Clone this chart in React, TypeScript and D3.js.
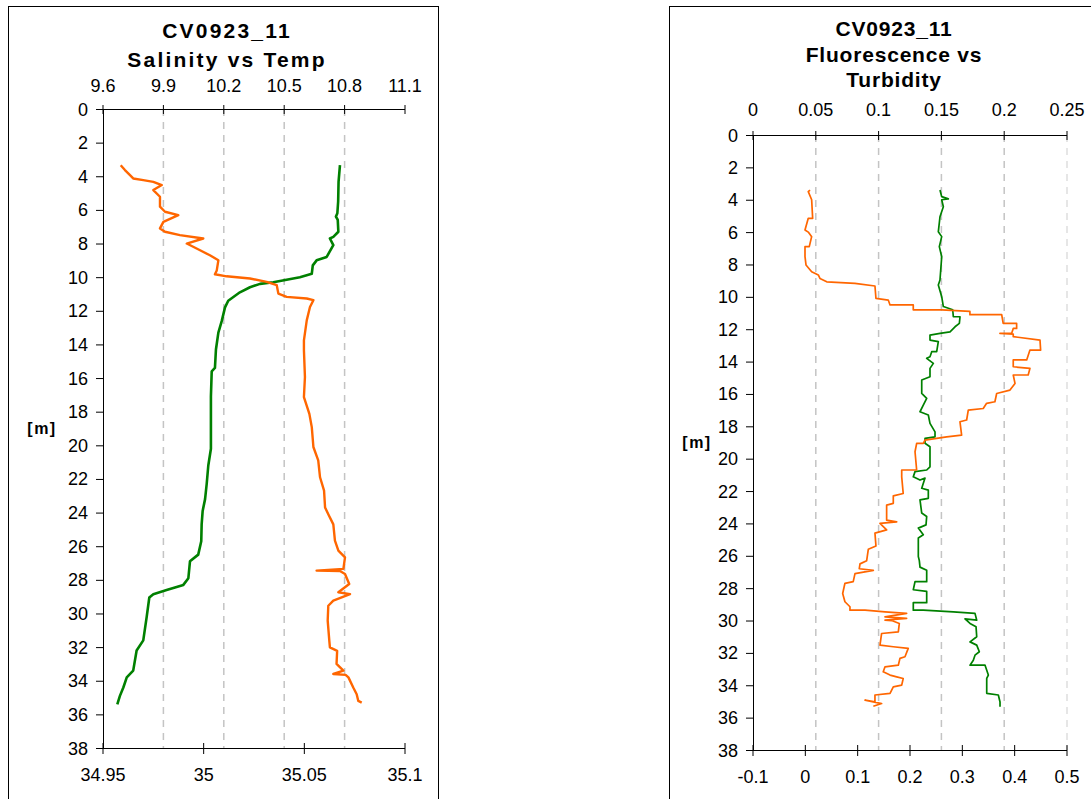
import * as d3 from 'd3';

// depth ticks shared by both panels
const depthTicks = [0, 2, 4, 6, 8, 10, 12, 14, 16, 18, 20, 22, 24, 26, 28, 30, 32, 34, 36, 38];

const tempTicks = [9.6, 9.9, 10.2, 10.5, 10.8, 11.1];
const salTicks = [34.95, 35, 35.05, 35.1];
const fluorTicks = [0, 0.05, 0.1, 0.15, 0.2, 0.25];
const turbTicks = [-0.1, 0, 0.1, 0.2, 0.3, 0.4, 0.5];

// [depth m, temperature]
const tempProfile: [number, number][] = [
  [3.34, 10.777], [4.33, 10.770], [5.5, 10.768], [6.2, 10.764], [6.4, 10.757], [6.6, 10.766],
  [7.3, 10.769], [7.6, 10.744], [7.7, 10.727], [8.1, 10.744], [8.5, 10.725], [8.8, 10.711],
  [9.0, 10.661], [9.3, 10.642], [9.8, 10.637], [10.0, 10.578], [10.15, 10.512], [10.3, 10.446],
  [10.4, 10.380], [10.6, 10.330], [10.9, 10.280], [11.4, 10.222], [11.8, 10.206], [12.6, 10.190],
  [13.3, 10.173], [14.3, 10.161], [15.4, 10.156], [15.6, 10.140], [17.1, 10.136], [20.2, 10.136],
  [21.2, 10.123], [22.3, 10.115], [23.2, 10.107], [23.9, 10.095], [24.7, 10.090], [25.7, 10.088],
  [26.5, 10.073], [26.9, 10.032], [27.9, 10.024], [28.3, 9.999], [28.6, 9.916], [28.85, 9.850],
  [29.05, 9.830], [30.2, 9.817], [31.6, 9.800], [32.2, 9.767], [33.4, 9.750], [33.8, 9.718],
  [34.4, 9.701], [34.9, 9.684], [35.4, 9.671],
];

// [depth m, salinity]
const salProfile: [number, number][] = [
  [3.34, 34.9588], [3.63, 34.9609], [3.93, 34.9634], [4.13, 34.9650], [4.23, 34.9700], [4.33, 34.9750],
  [4.52, 34.9792], [4.82, 34.9750], [5.22, 34.9783], [5.81, 34.9783], [6.11, 34.9808], [6.31, 34.9874],
  [6.71, 34.9800], [7.1, 34.9783], [7.3, 34.9808], [7.5, 34.9882], [7.7, 34.9998], [8.0, 34.9916],
  [8.4, 34.9982], [8.7, 35.0031], [9.0, 35.0073], [9.6, 35.0065], [9.83, 35.0056], [9.95, 35.0114],
  [10.08, 35.0230], [10.28, 35.0313], [10.48, 35.0363], [10.98, 35.0371], [11.17, 35.0412],
  [11.27, 35.0512], [11.37, 35.0545], [11.77, 35.0528], [12.57, 35.0512], [13.76, 35.0498],
  [14.35, 35.0498], [15.94, 35.0503], [17.13, 35.0498], [18.13, 35.0525], [18.92, 35.0537],
  [20.1, 35.0545], [20.9, 35.0569], [21.9, 35.0578], [22.7, 35.0598], [23.7, 35.0603], [24.1, 35.0619],
  [24.7, 35.0644], [25.67, 35.0652], [26.26, 35.0669], [26.66, 35.0702], [27.35, 35.0694],
  [27.45, 35.0561], [27.47, 35.0677], [27.65, 35.0702], [28.25, 35.0723], [28.74, 35.0669],
  [28.85, 35.0727], [29.24, 35.0644], [29.54, 35.0619], [30.43, 35.0616], [31.62, 35.0624],
  [32.02, 35.0627], [32.22, 35.0663], [33.0, 35.0660], [33.4, 35.0694], [33.6, 35.0644],
  [33.65, 35.0705], [33.8, 35.0719], [34.4, 35.0743], [34.8, 35.0760], [35.2, 35.0768], [35.3, 35.0785],
];

// [depth m, fluorescence]
const fluorProfile: [number, number][] = [
  [3.4, 0.0454], [3.5, 0.0440], [4.0, 0.0467], [5.15, 0.0475], [5.15, 0.0440], [5.87, 0.0414],
  [6.0, 0.0440], [6.28, 0.0467], [6.9, 0.0448], [6.9, 0.0414], [7.52, 0.0414], [8.03, 0.0422],
  [8.45, 0.0467], [8.65, 0.0520], [8.86, 0.0533], [9.07, 0.0587], [9.17, 0.0812], [9.33, 0.0971],
  [10.1, 0.0979], [10.2, 0.1077], [10.5, 0.1091], [10.5, 0.1276], [10.8, 0.1276], [10.8, 0.1502],
  [10.9, 0.1727], [11.1, 0.1727], [11.1, 0.1980], [11.64, 0.1992], [11.64, 0.2099], [11.95, 0.2099],
  [11.95, 0.2072], [12.26, 0.2059], [12.26, 0.1966], [12.3, 0.2072], [12.46, 0.2072], [12.67, 0.2285],
  [13.29, 0.2290], [13.29, 0.2205], [13.9, 0.2179], [13.9, 0.2072], [14.32, 0.2072], [14.42, 0.2205],
  [14.83, 0.2191], [14.83, 0.2072], [15.35, 0.2086], [15.76, 0.2046], [15.97, 0.1940], [16.48, 0.1926],
  [16.58, 0.1860], [16.9, 0.1833], [17.0, 0.1714], [17.61, 0.1701], [17.72, 0.1648], [18.54, 0.1661],
  [18.65, 0.1542], [18.85, 0.1369], [19.05, 0.1356], [19.05, 0.1303], [19.57, 0.1290], [20.7, 0.1303],
  [20.7, 0.1184], [21.12, 0.1184], [22.15, 0.1196], [22.3, 0.1117], [22.76, 0.1117], [22.87, 0.1064],
  [23.8, 0.1064], [23.9, 0.1144], [24.0, 0.1011], [24.4, 0.1064], [24.6, 0.0971], [25.4, 0.0979],
  [25.6, 0.0918], [26.3, 0.0905], [26.5, 0.0852], [26.8, 0.0846], [26.9, 0.0958], [27.1, 0.0812],
  [27.6, 0.0798], [27.7, 0.0732], [28.33, 0.0714], [28.84, 0.0732], [29.15, 0.0772], [29.36, 0.0772],
  [29.36, 0.0892], [29.46, 0.1051], [29.56, 0.1223], [29.77, 0.1051], [29.87, 0.1223], [29.98, 0.1051],
  [30.0, 0.1104], [30.18, 0.1165], [30.7, 0.1157], [30.8, 0.1024], [31.52, 0.1011], [31.62, 0.1117],
  [31.72, 0.1236], [32.24, 0.1210], [32.34, 0.1170], [32.76, 0.1157], [32.86, 0.1051], [33.17, 0.1037],
  [33.37, 0.1091], [33.48, 0.1144], [33.58, 0.1196], [33.99, 0.1184], [34.1, 0.1117], [34.5, 0.1091],
  [34.6, 0.0971], [35.03, 0.0971], [34.92, 0.0892], [35.13, 0.1024], [35.3, 0.0958],
];

// [depth m, turbidity]
const turbProfile: [number, number][] = [
  [3.4, 0.2573], [3.81, 0.2606], [3.95, 0.2732], [4.0, 0.2606], [4.43, 0.2637], [5.05, 0.2573],
  [5.98, 0.2541], [6.28, 0.2606], [6.9, 0.2560], [7.52, 0.2606], [8.96, 0.2573], [9.27, 0.2541],
  [9.99, 0.2606], [10.6, 0.2637], [10.8, 0.2816], [11.23, 0.2828], [11.23, 0.2956], [11.64, 0.2943],
  [11.85, 0.2860], [12.16, 0.2765], [12.26, 0.2573], [12.36, 0.2382], [12.67, 0.2382], [12.77, 0.2541],
  [13.39, 0.2510], [13.39, 0.2415], [13.7, 0.2382], [13.8, 0.2319], [14.11, 0.2446], [14.42, 0.2382],
  [14.94, 0.2382], [15.14, 0.2224], [15.97, 0.2224], [16.27, 0.2319], [16.69, 0.2254], [17.1, 0.2191],
  [17.3, 0.2350], [17.82, 0.2382], [18.34, 0.2478], [18.65, 0.2478], [18.75, 0.2287], [19.05, 0.2287],
  [19.26, 0.2382], [20.5, 0.2382], [20.7, 0.2319], [20.8, 0.2096], [21.12, 0.2063], [21.32, 0.2191],
  [21.2, 0.2287], [21.83, 0.2224], [21.94, 0.2350], [22.45, 0.2350], [22.55, 0.2191], [23.36, 0.2224],
  [23.57, 0.2319], [24.09, 0.2306], [24.29, 0.2159], [24.7, 0.2254], [24.9, 0.2159], [26.04, 0.2159],
  [26.3, 0.2178], [26.7, 0.2191], [26.9, 0.2319], [27.6, 0.2319], [27.6, 0.2096], [28.1, 0.2063],
  [28.2, 0.2319], [28.9, 0.2319], [28.9, 0.2063], [29.36, 0.2063], [29.36, 0.2254], [29.46, 0.2828],
  [29.56, 0.3242], [29.98, 0.3275], [29.9, 0.3051], [30.18, 0.3147], [30.39, 0.3262], [31.0, 0.3275],
  [31.32, 0.3147], [31.52, 0.3275], [31.93, 0.3325], [32.14, 0.3242], [32.45, 0.3210], [32.76, 0.3147],
  [32.76, 0.3434], [33.37, 0.3497], [33.58, 0.3466], [34.5, 0.3466], [34.6, 0.3688], [35.03, 0.3720],
  [35.33, 0.3720],
];

const FONT = '"Liberation Sans", Arial, sans-serif';
const ORANGE = '#FF6600';
const GREEN = '#008000';

type Series = { data: [number, number][]; axis: 'top' | 'bottom'; color: string; width: number };

type PanelProps = {
  frameX: number;
  frameW: number;
  box: { l: number; r: number; t: number; b: number };
  topDomain: [number, number];
  topTicks: number[];
  bottomDomain: [number, number];
  bottomTicks: number[];
  gridTicks: number[];
  series: Series[];
  titles: { text: string; y: number }[];
  titleX: number;
  titleSpacing: number;
  topLabelY: number;
  mLabel: { x: number; y: number };
};

function Panel(p: PanelProps) {
  const { box } = p;
  const y = d3.scaleLinear().domain([0, 38]).range([box.t, box.b]);
  const xTop = d3.scaleLinear().domain(p.topDomain).range([box.l, box.r]);
  const xBot = d3.scaleLinear().domain(p.bottomDomain).range([box.l, box.r]);

  return (
    <g fontFamily={FONT}>
      <rect x={p.frameX + 0.5} y={6.5} width={p.frameW} height={820} fill="#fff" stroke="#000" strokeWidth={1} />

      {p.titles.map((t) => (
        <text key={t.text} x={p.titleX} y={t.y} textAnchor="middle" fontSize={21} fontWeight="bold"
          letterSpacing={p.titleSpacing}>{t.text}</text>
      ))}

      {/* grid */}
      {p.gridTicks.map((v, i) => (
        <line key={v} x1={xTop(v)} x2={xTop(v)} y1={box.t} y2={box.b}
          stroke={i === p.gridTicks.length - 1 && xTop(v) >= box.r - 1 ? '#dedede' : '#c4c4c4'}
          strokeWidth={1.5} strokeDasharray="7,6" />
      ))}

      {/* top axis */}
      <line x1={box.l} x2={box.r} y1={box.t + 0.5} y2={box.t + 0.5} stroke="#000" />
      {p.topTicks.map((v) => (
        <g key={v}>
          <line x1={xTop(v)} x2={xTop(v)} y1={box.t - 4} y2={box.t + 5} stroke="#000" />
          <text x={xTop(v)} y={p.topLabelY} textAnchor="middle" fontSize={18}>{String(v)}</text>
        </g>
      ))}

      {/* bottom axis */}
      <line x1={box.l} x2={box.r} y1={box.b + 0.5} y2={box.b + 0.5} stroke="#000" />
      {p.bottomTicks.map((v) => (
        <g key={v}>
          <line x1={xBot(v)} x2={xBot(v)} y1={box.b - 5} y2={box.b + 6} stroke="#000" />
          <text x={xBot(v)} y={box.b + 33} textAnchor="middle" fontSize={18}>{String(v)}</text>
        </g>
      ))}

      {/* depth axis */}
      <line x1={box.l + 0.5} x2={box.l + 0.5} y1={box.t} y2={box.b} stroke="#000" />
      {depthTicks.map((v) => (
        <g key={v}>
          <line x1={box.l - 7} x2={box.l} y1={y(v) + 0.5} y2={y(v) + 0.5} stroke="#000" />
          <text x={box.l - 15} y={y(v) + 6.5} textAnchor="end" fontSize={18}>{String(v)}</text>
        </g>
      ))}
      <text x={p.mLabel.x} y={p.mLabel.y} textAnchor="middle" fontSize={16} fontWeight="bold" letterSpacing={1.5}>[m]</text>

      {p.series.map((s, i) => {
        const xs = s.axis === 'top' ? xTop : xBot;
        const line = d3.line<[number, number]>().x((d) => xs(d[1])).y((d) => y(d[0]));
        return <path key={i} d={line(s.data) ?? ''} fill="none" stroke={s.color} strokeWidth={s.width} strokeLinejoin="round" />;
      })}
    </g>
  );
}

export default function App() {
  return (
    <svg width={1091} height={799} style={{ position: 'absolute', left: 0, top: 0, background: '#fff' }}>
      <Panel
        frameX={8}
        frameW={430}
        box={{ l: 103, r: 405, t: 109, b: 748 }}
        topDomain={[9.6, 11.1]}
        topTicks={tempTicks}
        bottomDomain={[34.95, 35.1]}
        bottomTicks={salTicks}
        gridTicks={[9.9, 10.2, 10.5, 10.8]}
        series={[
          { data: tempProfile, axis: 'top', color: GREEN, width: 2.6 },
          { data: salProfile, axis: 'bottom', color: ORANGE, width: 2.4 },
        ]}
        titles={[{ text: 'CV0923_11', y: 38 }, { text: 'Salinity vs Temp', y: 67 }]}
        titleX={227}
        titleSpacing={2.2}
        topLabelY={92}
        mLabel={{ x: 42, y: 434 }}
      />
      <Panel
        frameX={669}
        frameW={450}
        box={{ l: 753, r: 1067, t: 135, b: 750 }}
        topDomain={[0, 0.25]}
        topTicks={fluorTicks}
        bottomDomain={[-0.1, 0.5]}
        bottomTicks={turbTicks}
        gridTicks={[0.05, 0.1, 0.15, 0.2, 0.25]}
        series={[
          { data: turbProfile, axis: 'bottom', color: GREEN, width: 1.7 },
          { data: fluorProfile, axis: 'top', color: ORANGE, width: 1.7 },
        ]}
        titles={[
          { text: 'CV0923_11', y: 36 },
          { text: 'Fluorescence vs', y: 62 },
          { text: 'Turbidity', y: 87 },
        ]}
        titleX={894}
        titleSpacing={0.8}
        topLabelY={116}
        mLabel={{ x: 697, y: 448 }}
      />
    </svg>
  );
}
